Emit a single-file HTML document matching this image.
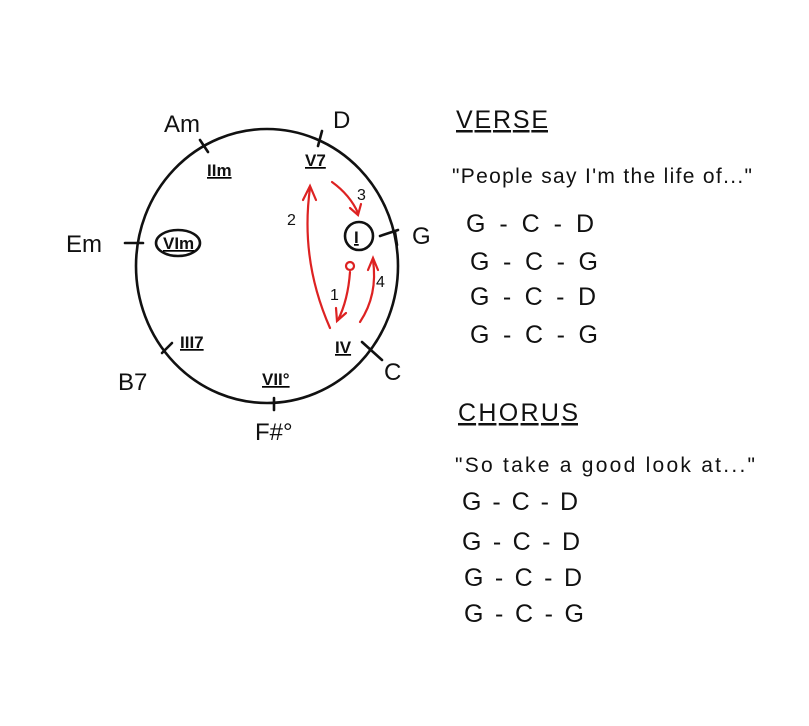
<!DOCTYPE html>
<html><head><style>
html,body{margin:0;padding:0;background:#fff;}
svg{display:block;}
text{font-family:"Liberation Sans",sans-serif;fill:#111;}
</style></head><body>
<svg width="809" height="726" viewBox="0 0 809 726" xmlns="http://www.w3.org/2000/svg">
<rect width="809" height="726" fill="#fff"/>
<g stroke="#111" stroke-width="2.6" fill="none" stroke-linecap="round">
<ellipse cx="267" cy="266" rx="131" ry="137"/>
<line x1="200" y1="140" x2="208" y2="152"/>
<line x1="322" y1="131" x2="318" y2="146"/>
<line x1="380" y1="236" x2="398" y2="230"/>
<line x1="395" y1="232" x2="397" y2="245"/>
<line x1="362" y1="342" x2="382" y2="360"/>
<line x1="274" y1="398" x2="274" y2="410"/>
<line x1="162" y1="353" x2="172" y2="343"/>
<line x1="125" y1="243" x2="143" y2="243"/>
<ellipse cx="178" cy="243" rx="22" ry="13"/>
<circle cx="359" cy="236" r="14"/>
</g>
<g font-size="24">
<text x="164" y="132">Am</text>
<text x="333" y="128">D</text>
<text x="412" y="244">G</text>
<text x="384" y="380">C</text>
<text x="255" y="440">F#°</text>
<text x="118" y="390">B7</text>
<text x="66" y="252">Em</text>
</g>
<g font-size="17" font-family="Liberation Serif" text-decoration="underline" font-weight="bold">
<text x="207" y="176">IIm</text>
<text x="305" y="166">V7</text>
<text x="163" y="249">VIm</text>
<text x="354" y="243">I</text>
<text x="335" y="353">IV</text>
<text x="180" y="348">III7</text>
<text x="262" y="385">VII°</text>
</g>
<g stroke="#d22" stroke-width="2.2" fill="none" stroke-linecap="round">
<path d="M330 328 Q300 260 310 188"/>
<path d="M303 200 L310 186 L316 200"/>
<path d="M332 182 Q350 195 358 213"/>
<path d="M350 208 L358 215 L361 204"/>
<circle cx="350" cy="266" r="4"/>
<path d="M350 272 Q348 300 338 320"/>
<path d="M336 308 L337 321 L346 313"/>
<path d="M360 322 Q378 295 373 260"/>
<path d="M368 270 L373 258 L378 270"/>
</g>
<g font-size="16">
<text x="287" y="225" fill="#d22">2</text>
<text x="357" y="200" fill="#d22">3</text>
<text x="330" y="300" fill="#d22">1</text>
<text x="376" y="287" fill="#d22">4</text>
</g>
<g font-size="25">
<text x="456" y="128" text-decoration="underline" textLength="92">VERSE</text>
<text x="452" y="183" font-size="21" textLength="300">"People say I'm the life of..."</text>
<text x="466" y="232" textLength="128">G - C - D</text>
<text x="470" y="270" textLength="128">G - C - G</text>
<text x="470" y="305" textLength="126">G - C - D</text>
<text x="470" y="343" textLength="128">G - C - G</text>
<text x="458" y="421" text-decoration="underline" textLength="120">CHORUS</text>
<text x="455" y="472" font-size="21" textLength="300">"So take a good look at..."</text>
<text x="462" y="510" textLength="116">G - C - D</text>
<text x="462" y="550" textLength="118">G - C - D</text>
<text x="464" y="586" textLength="118">G - C - D</text>
<text x="464" y="622" textLength="120">G - C - G</text>
</g>
</svg>
</body></html>
